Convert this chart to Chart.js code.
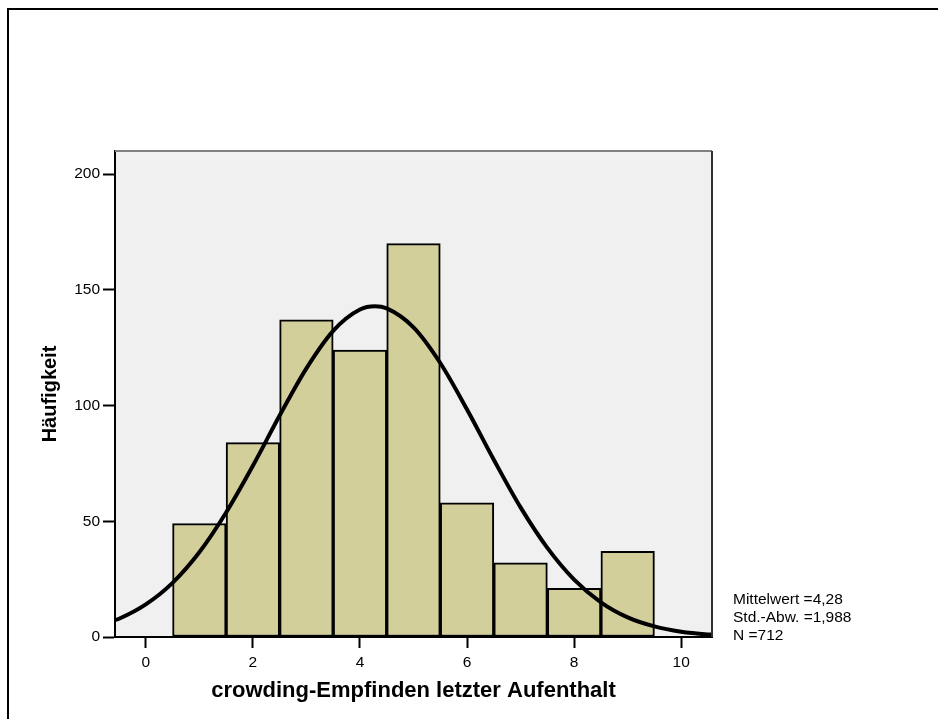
<!DOCTYPE html>
<html>
<head>
<meta charset="utf-8">
<script src="https://cdn.jsdelivr.net/npm/chart.js@4.4.1/dist/chart.umd.min.js"></script>
<style>
html,body{margin:0;padding:0;background:#fff;}
#wrap{position:relative;width:938px;height:719px;}
canvas{display:block;}
</style>
</head>
<body>
<div id="wrap"><canvas id="c" width="938" height="719"></canvas></div>
<script>
// Histogram data (bin centres and frequencies)
const binCenters = [1, 2, 3, 4, 5, 6, 7, 8, 9];
const frequencies = [49, 84, 137, 124, 170, 58, 32, 21, 37];
// Normal curve
const curveX = [-0.575, -0.5, 0, 0.5, 1, 1.5, 2, 2.5, 3, 3.5, 4, 4.28, 4.5, 5, 5.5, 6, 6.5, 7, 7.5, 8, 8.5, 9, 9.5, 10, 10.5, 10.575];
const curveY = [7.3, 7.9, 14.1, 23.4, 36.6, 53.8, 74.0, 95.7, 116.1, 132.3, 141.5, 142.9, 142.0, 133.8, 118.4, 98.3, 76.6, 56.0, 38.5, 24.8, 15.0, 8.5, 4.6, 2.3, 1.1, 1.0];
const xTicks = [0, 2, 4, 6, 8, 10];
const yTicks = [0, 50, 100, 150, 200];
const xTitle = 'crowding-Empfinden letzter Aufenthalt';
const yTitle = 'Häufigkeit';
const statsLines = ['Mittelwert =4,28', 'Std.-Abw. =1,988', 'N =712'];

const FONT = 'Arial, "Liberation Sans", Helvetica, sans-serif';

const decor = {
  id: 'decor',
  beforeDraw(chart) {
    const {ctx, chartArea: a} = chart;
    ctx.save();
    ctx.fillStyle = '#f0f0f0';
    ctx.fillRect(a.left, a.top, a.right - a.left, a.bottom - a.top);
    ctx.restore();
  },
  afterDraw(chart) {
    const {ctx, chartArea: a} = chart;
    ctx.save();
    // plot frame top and right
    ctx.lineWidth = 2;
    ctx.strokeStyle = '#808080';
    ctx.beginPath();
    ctx.moveTo(a.left, a.top);
    ctx.lineTo(a.right, a.top);
    ctx.stroke();
    ctx.strokeStyle = '#303030';
    ctx.beginPath();
    ctx.moveTo(a.right, a.top);
    ctx.lineTo(a.right, a.bottom);
    ctx.stroke();
    // outer frame
    ctx.strokeStyle = '#000';
    ctx.lineWidth = 2;
    ctx.beginPath();
    ctx.moveTo(8, 719);
    ctx.lineTo(8, 9);
    ctx.lineTo(938, 9);
    ctx.stroke();
    // stats text
    ctx.fillStyle = '#000';
    ctx.font = '15.5px ' + FONT;
    ctx.textBaseline = 'middle';
    ctx.textAlign = 'left';
    statsLines.forEach((t, i) => ctx.fillText(t, 733, 600 + i * 17.7));
    ctx.restore();
  }
};

new Chart(document.getElementById('c'), {
  data: {
    datasets: [
      {
        type: 'line',
        data: curveX.map((x, i) => ({x: x, y: curveY[i]})),
        borderColor: '#000',
        borderWidth: 4,
        pointRadius: 0,
        cubicInterpolationMode: 'monotone',
        fill: false,
        order: 0
      },
      {
        type: 'bar',
        data: binCenters.map((x, i) => ({x: x, y: frequencies[i]})),
        backgroundColor: '#d3cf9b',
        borderColor: '#000',
        borderWidth: 2,
        borderSkipped: false,
        barPercentage: 1,
        categoryPercentage: 1,
        order: 1
      }
    ]
  },
  options: {
    responsive: false,
    animation: false,
    events: [],
    layout: {padding: {left: 0, right: 226, top: 151, bottom: 0}},
    plugins: {legend: {display: false}, tooltip: {enabled: false}},
    scales: {
      x: {
        type: 'linear',
        offset: false,
        min: -0.575,
        max: 10.575,
        afterBuildTicks: s => { s.ticks = xTicks.map(v => ({value: v})); },
        afterFit: s => { s.height = 82; },
        grid: {offset: false, drawOnChartArea: false, drawTicks: true, tickLength: 11, tickColor: '#000', tickWidth: 2},
        border: {display: true, color: '#000', width: 2},
        ticks: {color: '#000', font: {family: FONT, size: 15.5}, padding: 5, maxRotation: 0},
        title: {display: true, text: xTitle, color: '#000', font: {family: FONT, size: 22, weight: 'bold'}, padding: {top: 0, bottom: 15}}
      },
      y: {
        type: 'linear',
        min: 0,
        max: 210,
        afterBuildTicks: s => { s.ticks = yTicks.map(v => ({value: v})); },
        afterFit: s => { s.width = 115; },
        grid: {drawOnChartArea: false, drawTicks: true, tickLength: 12, tickColor: '#000', tickWidth: 2},
        border: {display: true, color: '#000', width: 2},
        ticks: {color: '#000', font: {family: FONT, size: 15.5}, padding: 3},
        title: {display: true, text: yTitle, color: '#000', font: {family: FONT, size: 20, weight: 'bold'}, padding: {top: 38, bottom: 0}}
      }
    }
  },
  plugins: [decor]
});
</script>
</body>
</html>
